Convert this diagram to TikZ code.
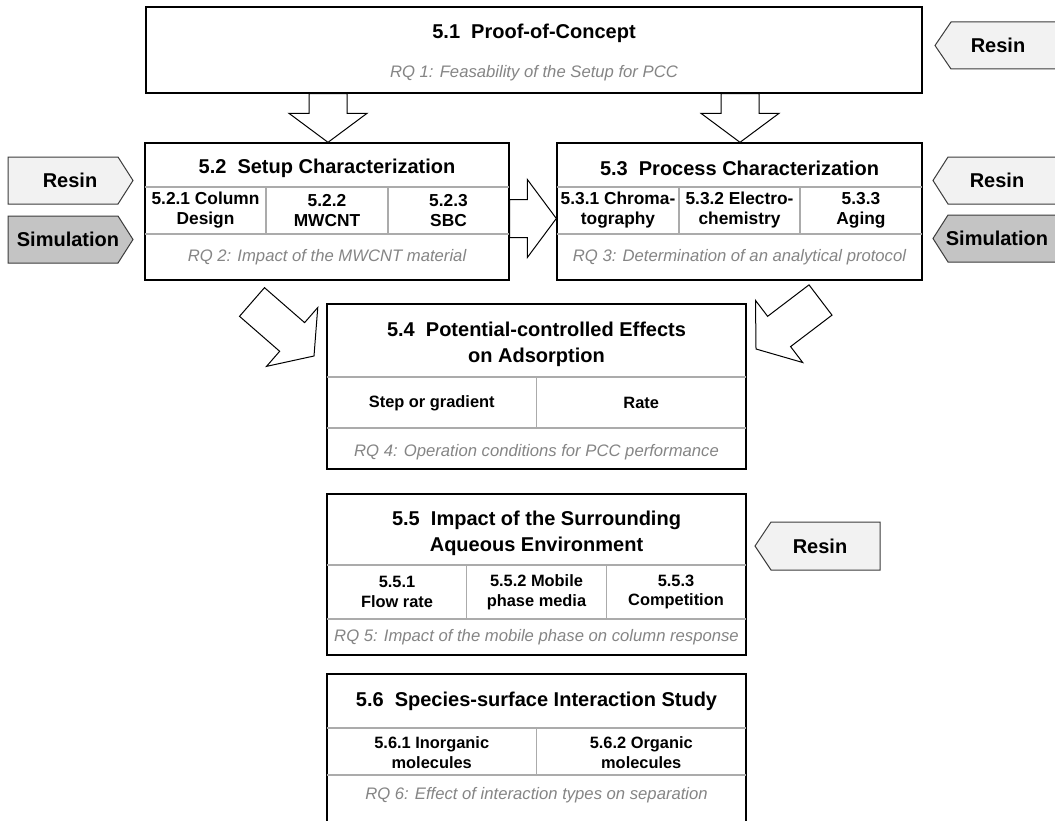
\documentclass[tikz,border=0pt]{standalone}
\usepackage{fontspec}
\setmainfont{Liberation Sans}
\usetikzlibrary{calc,fit}
\definecolor{gridc}{HTML}{ABABAB}
\definecolor{rqc}{HTML}{858585}
\definecolor{resinfill}{HTML}{F2F2F2}
\definecolor{simfill}{HTML}{C4C4C4}
\definecolor{tagline}{HTML}{3C3C3C}
\tikzset{
  box/.style={draw=black, line width=1pt, inner sep=0pt, fill=white},
  gridline/.style={draw=gridc, line width=0.8pt},
  ttl/.style={font=\fontsize{15}{19.5}\selectfont\bfseries, align=center, inner sep=0pt},
  subt/.style={font=\fontsize{12.3}{14.8}\selectfont\bfseries, align=center, inner sep=0pt},
  subw/.style={font=\fontsize{13}{15}\selectfont\bfseries, align=center, inner sep=0pt},
  rq/.style={font=\fontsize{12.5}{15}\selectfont\itshape, text=rqc, inner sep=0pt},
  tagtxt/.style={font=\fontsize{15}{18}\selectfont\bfseries, inner sep=0pt},
  blk/.style={draw=black, line width=0.75pt, fill=white, line join=miter},
  resintag/.style={draw=tagline, line width=0.75pt, fill=resinfill},
  simtag/.style={draw=tagline, line width=0.75pt, fill=simfill},
}
\newcommand\blockarrow[2]{%
  \coordinate (ah) at ($(#2)!21.75pt!(#1)$);
  \draw[blk] ($(#1)!14.25pt!90:(#2)$) -- ($(ah)!14.25pt!90:(#2)$) -- ($(ah)!29.25pt!90:(#2)$) -- (#2)
    -- ($(ah)!29.25pt!-90:(#2)$) -- ($(ah)!14.25pt!-90:(#2)$) -- ($(#1)!14.25pt!-90:(#2)$) -- cycle;}
\begin{document}
\begin{tikzpicture}[x=0.75pt,y=-0.75pt]
\clip (0,0) rectangle (1055,820);
\fill[white] (0,0) rectangle (1055,820);

% ---------- 5.1
\node[box, fit={(146,7) (922,93)}] (b51) {};
\node[ttl] (t51) at (534,33) {5.1\ \ Proof-of-Concept};
\node[rq] (r51) at (534,73) {RQ 1: Feasability of the Setup for PCC};

% ---------- 5.2
\node[box, fit={(145,143) (509,280)}] (b52) {};
\draw[gridline] (145,187) -- (509,187) (145,234) -- (509,234) (266,187) -- (266,234) (388,187) -- (388,234);
\node[ttl] (t52) at (327,168) {5.2\ \ Setup Characterization};
\node[subw] (s521) at (205.5,210.5) {5.2.1 Column\\Design};
\node[subw] (s522) at (327,210.5) {5.2.2\\MWCNT};
\node[subw] (s523) at (448.5,210.5) {5.2.3\\SBC};
\node[rq] (r52) at (327,257) {RQ 2: Impact of the MWCNT material};

% ---------- 5.3
\node[box, fit={(557,143) (922,280)}] (b53) {};
\draw[gridline] (557,187) -- (922,187) (557,234) -- (922,234) (679,187) -- (679,234) (800,187) -- (800,234);
\node[ttl] (t53) at (739.5,168) {5.3\ \ Process Characterization};
\node[subw] (s531) at (618,210.5) {5.3.1 Chroma-\\tography};
\node[subw] (s532) at (739.5,210.5) {5.3.2 Electro-\\chemistry};
\node[subw] (s533) at (861,210.5) {5.3.3\\Aging};
\node[rq] (r53) at (739.5,257) {RQ 3: Determination of an analytical protocol};

% ---------- 5.4
\node[box, fit={(327,304) (746,469)}] (b54) {};
\draw[gridline] (327,377) -- (746,377) (327,428) -- (746,428) (536.5,377) -- (536.5,428);
\node[ttl] (t54) at (536.5,344) {5.4\ \ Potential-controlled Effects\\on Adsorption};
\node[subt] (s541) at (431.75,403) {Step or gradient};
\node[subt] (s542) at (641.25,403) {Rate};
\node[rq] (r54) at (536.5,452) {RQ 4: Operation conditions for PCC performance};

% ---------- 5.5
\node[box, fit={(327,494) (746,655)}] (b55) {};
\draw[gridline] (327,565) -- (746,565) (327,619) -- (746,619) (466.7,565) -- (466.7,619) (606.3,565) -- (606.3,619);
\node[ttl] (t55) at (536.5,533) {5.5\ \ Impact of the Surrounding\\Aqueous Environment};
\node[subt] (s551) at (397,592) {5.5.1\\Flow rate};
\node[subt] (s552) at (536.5,592) {5.5.2 Mobile\\phase media};
\node[subt] (s553) at (676,592) {5.5.3\\Competition};
\node[rq] (r55) at (536.5,637) {RQ 5: Impact of the mobile phase on column response};

% ---------- 5.6
\node[box, fit={(327,674) (746,830)}] (b56) {};
\draw[gridline] (327,728) -- (746,728) (327,775) -- (746,775) (536.5,728) -- (536.5,775);
\node[ttl] (t56) at (536.5,701) {5.6\ \ Species-surface Interaction Study};
\node[subt] (s561) at (431.75,752.5) {5.6.1 Inorganic\\molecules};
\node[subt] (s562) at (641.25,752.5) {5.6.2 Organic\\molecules};
\node[rq] (r56) at (536.5,795) {RQ 6: Effect of interaction types on separation};

% ---------- block arrows
\coordinate (a1t) at (b51.south -| 328,0);
\coordinate (a1h) at (b52.north -| 328,0);
\blockarrow{a1t}{a1h}
\coordinate (a2t) at (b51.south -| 740,0);
\coordinate (a2h) at (b53.north -| 740,0);
\blockarrow{a2t}{a2h}
\coordinate (a3t) at (b52.east |- 0,218.5);
\coordinate (a3h) at (b53.west |- 0,218.5);
\blockarrow{a3t}{a3h}
\coordinate (a4t) at (252,302);
\coordinate (a4h) at (314,356);
\blockarrow{a4t}{a4h}
\coordinate (a5t) at (820.5,300);
\coordinate (a5h) at (756,349);
\blockarrow{a5t}{a5h}

% ---------- tags
\draw[resintag] (8,157) -- (118,157) -- (133,180.5) -- (118,204) -- (8,204) -- cycle;
\node[tagtxt] (tgl1) at (70,180.5) {Resin};
\draw[simtag] (8,216) -- (118,216) -- (133,239.5) -- (118,263) -- (8,263) -- cycle;
\node[tagtxt] (tgl2) at (68,239.5) {Simulation};

\draw[resintag] (1062,22) -- (951,22) -- (935,45.5) -- (951,69) -- (1062,69) -- cycle;
\node[tagtxt] (tgr0) at (998,45.5) {Resin};
\draw[resintag] (1062,157) -- (948,157) -- (933,180.5) -- (948,204) -- (1062,204) -- cycle;
\node[tagtxt] (tgr1) at (997,180.5) {Resin};
\draw[simtag] (1062,215) -- (948,215) -- (933,238.5) -- (948,262) -- (1062,262) -- cycle;
\node[tagtxt] (tgr2) at (997,238.5) {Simulation};
\draw[resintag] (880,522) -- (771,522) -- (755,546) -- (771,570) -- (880,570) -- cycle;
\node[tagtxt] (tgr3) at (820,546) {Resin};
\end{tikzpicture}
\end{document}
